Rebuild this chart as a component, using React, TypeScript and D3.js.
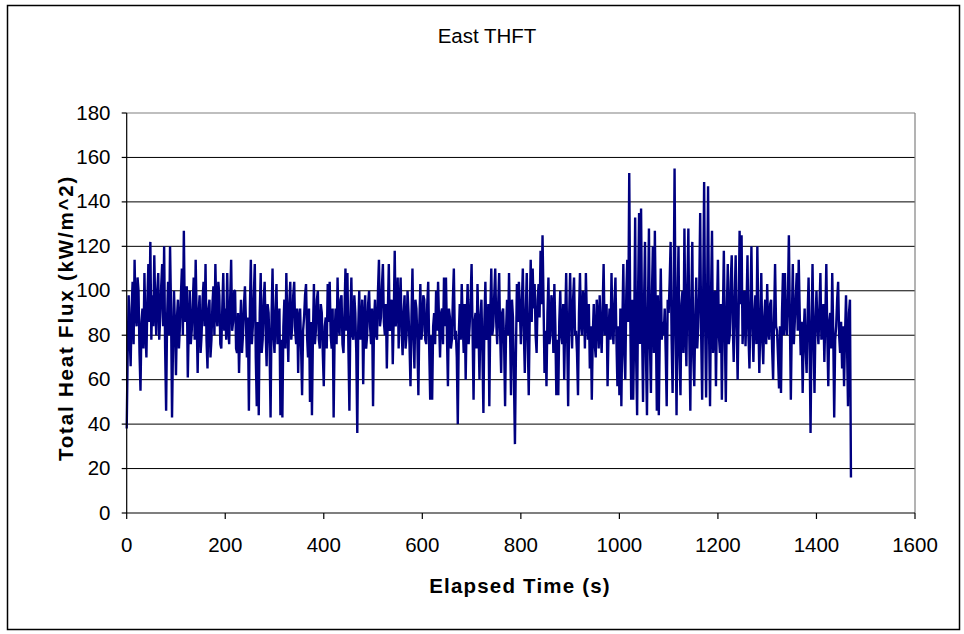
import React from "react";
import * as d3 from "d3";

const TITLE = "East THFT";
const X_TITLE = "Elapsed Time (s)";
const Y_TITLE = "Total Heat Flux (kW/m^2)";
const X_TICKS = [0, 200, 400, 600, 800, 1000, 1200, 1400, 1600];
const Y_TICKS = [0, 20, 40, 60, 80, 100, 120, 140, 160, 180];

// sampling of the series: one reading every 2 s from t = 0
const T_START = 0;
const T_STEP = 2;

// Total heat flux (kW/m^2), 50 readings per row (100 s)
const FLUX = [
  38, 72, 98, 80, 66, 92, 104, 76, 114, 90, 84, 106, 100, 72, 55, 86, 92, 74, 108, 82, 70, 96, 112, 86, 122, 78, 98, 84, 116, 92, 80, 100, 108, 78, 88, 102, 112, 84, 120, 74, 46, 88, 104, 80, 120, 92, 43, 76, 100, 84,
  62, 88, 96, 74, 84, 98, 110, 80, 127, 86, 90, 102, 61, 84, 100, 76, 82, 94, 106, 78, 114, 88, 63, 90, 98, 72, 80, 96, 104, 84, 112, 78, 65, 92, 96, 70, 78, 94, 102, 80, 112, 90, 84, 104, 98, 76, 74, 92, 108, 82,
  92, 78, 108, 84, 76, 96, 114, 82, 86, 100, 100, 74, 72, 90, 63, 82, 96, 72, 80, 94, 102, 86, 70, 88, 46, 92, 114, 76, 84, 98, 112, 70, 48, 86, 44, 90, 108, 72, 78, 96, 104, 82, 66, 94, 90, 74, 43, 88, 110, 80,
  72, 90, 103, 76, 80, 92, 44, 78, 43, 84, 96, 74, 108, 86, 68, 94, 104, 78, 84, 98, 104, 82, 76, 92, 63, 88, 92, 74, 53, 82, 88, 98, 103, 80, 70, 92, 50, 86, 44, 80, 103, 76, 82, 96, 100, 78, 74, 94, 90, 72,
  57, 84, 88, 74, 103, 86, 104, 80, 74, 92, 43, 80, 92, 76, 106, 84, 80, 96, 98, 76, 72, 90, 110, 82, 108, 74, 46, 88, 106, 80, 78, 98, 90, 72, 36, 84, 100, 78, 84, 96, 58, 86, 98, 74, 80, 94, 100, 84, 76, 92,
  48, 86, 96, 80, 78, 100, 114, 84, 88, 102, 112, 86, 80, 94, 65, 90, 112, 82, 84, 96, 67, 88, 118, 84, 92, 106, 74, 94, 106, 82, 71, 90, 98, 74, 80, 100, 90, 76, 57, 88, 110, 80, 65, 96, 92, 78, 53, 86, 103, 78,
  82, 98, 96, 78, 76, 94, 104, 74, 51, 80, 51, 84, 90, 76, 100, 82, 104, 86, 70, 90, 92, 76, 106, 84, 106, 80, 57, 92, 88, 74, 78, 96, 110, 78, 82, 70, 40, 80, 94, 78, 103, 86, 72, 94, 60, 88, 103, 76, 84, 96,
  112, 82, 51, 86, 90, 74, 103, 84, 60, 88, 96, 72, 45, 86, 104, 78, 80, 94, 48, 90, 110, 80, 84, 98, 110, 86, 76, 94, 108, 80, 63, 90, 92, 76, 48, 82, 96, 80, 108, 84, 53, 96, 88, 60, 31, 72, 103, 86, 104, 92,
  76, 94, 110, 82, 63, 90, 108, 78, 53, 88, 114, 86, 110, 92, 103, 80, 72, 96, 103, 88, 118, 94, 125, 96, 63, 82, 57, 90, 106, 76, 80, 98, 94, 72, 103, 84, 53, 78, 53, 86, 100, 80, 76, 94, 60, 86, 108, 80, 48, 88,
  108, 86, 74, 96, 106, 80, 82, 72, 53, 90, 108, 84, 80, 100, 96, 74, 108, 88, 78, 94, 65, 84, 51, 80, 94, 76, 70, 96, 88, 74, 98, 82, 72, 92, 112, 80, 84, 94, 57, 82, 92, 78, 108, 84, 76, 94, 106, 78, 57, 84,
  53, 92, 48, 84, 112, 72, 60, 98, 114, 86, 153, 90, 51, 96, 51, 80, 133, 70, 44, 100, 135, 76, 137, 84, 50, 94, 122, 70, 44, 92, 128, 76, 54, 98, 120, 72, 127, 86, 46, 98, 44, 80, 110, 78, 86, 80, 92, 72, 48, 96,
  90, 104, 122, 78, 54, 92, 155, 86, 44, 96, 120, 70, 53, 94, 100, 72, 128, 84, 66, 102, 128, 78, 46, 94, 122, 70, 57, 88, 106, 74, 84, 100, 135, 80, 51, 96, 149, 86, 52, 94, 147, 82, 48, 98, 127, 72, 80, 100, 57, 90,
  114, 80, 72, 94, 51, 88, 118, 82, 50, 90, 112, 76, 80, 104, 116, 86, 68, 96, 116, 84, 60, 90, 127, 94, 125, 76, 88, 100, 75, 92, 116, 80, 65, 94, 120, 84, 68, 90, 98, 76, 120, 88, 63, 84, 108, 78, 67, 88, 96, 76,
  103, 82, 78, 94, 96, 74, 60, 88, 112, 84, 82, 70, 56, 84, 54, 90, 108, 80, 108, 86, 80, 96, 125, 88, 51, 86, 112, 76, 86, 98, 108, 82, 114, 90, 71, 86, 54, 80, 92, 74, 63, 88, 106, 78, 36, 82, 112, 80, 54, 86,
  100, 84, 76, 92, 108, 78, 82, 94, 68, 88, 112, 80, 57, 86, 90, 74, 108, 82, 43, 78, 84, 96, 104, 80, 72, 86, 65, 84, 57, 80, 98, 76, 48, 90, 96, 16,
];

const W = 964;
const H = 634;
const FONT = "'Liberation Sans', Arial, sans-serif";

export default function App() {
  const x = d3.scaleLinear().domain([0, 1600]).range([126.7, 915]);
  const y = d3.scaleLinear().domain([0, 180]).range([513, 113]);
  const data = FLUX.map((v, i) => ({ t: T_START + i * T_STEP, v }));
  const line = d3
    .line<{ t: number; v: number }>()
    .x((d) => x(d.t))
    .y((d) => y(d.v));

  const x0 = x(0);
  const x1 = x(1600);
  const y0 = y(0);
  const y1 = y(180);

  return (
    <svg
      width={W}
      height={H}
      style={{ position: "absolute", left: 0, top: 0, background: "#fff" }}
      fontFamily={FONT}
    >
      <rect x={7.5} y={5.5} width={952} height={624} fill="#fff" stroke="#000" strokeWidth={1.5} />
      <text x={487} y={42.7} textAnchor="middle" fontSize={20.5} fill="#000">
        {TITLE}
      </text>

      {/* gridlines */}
      {Y_TICKS.filter((t) => t > 0 && t < 180).map((t) => (
        <line key={t} x1={x0} x2={x1} y1={y(t)} y2={y(t)} stroke="#000" strokeWidth={1} />
      ))}
      {/* plot area border (top / right) */}
      <line x1={x0} x2={x1} y1={y1} y2={y1} stroke="#808080" strokeWidth={1.2} />
      <line x1={x1} x2={x1} y1={y1} y2={y0} stroke="#808080" strokeWidth={1.2} />

      {/* data */}
      <path d={line(data) || ""} fill="none" stroke="#000080" strokeWidth={2.4} strokeLinejoin="bevel" />

      {/* axes */}
      <line x1={x0} x2={x0} y1={y1} y2={y0} stroke="#000" strokeWidth={1.2} />
      <line x1={x0} x2={x1} y1={y0} y2={y0} stroke="#000" strokeWidth={1.2} />
      {Y_TICKS.map((t) => (
        <g key={t}>
          <line x1={x0 - 5} x2={x0} y1={y(t)} y2={y(t)} stroke="#000" strokeWidth={1.2} />
          <text x={110.5} y={y(t) + 6.5} textAnchor="end" fontSize={20.5} fill="#000">
            {t}
          </text>
        </g>
      ))}
      {X_TICKS.map((t) => (
        <g key={t}>
          <line x1={x(t)} x2={x(t)} y1={y0} y2={y0 + 6} stroke="#000" strokeWidth={1.2} />
          <text x={x(t)} y={551.7} textAnchor="middle" fontSize={20.5} fill="#000">
            {t}
          </text>
        </g>
      ))}

      <text
        x={520}
        y={592.7}
        textAnchor="middle"
        fontSize={20.5}
        fontWeight="bold"
        letterSpacing={1.2}
        fill="#000"
      >
        {X_TITLE}
      </text>
      <text
        transform={`translate(73, 318) rotate(-90)`}
        textAnchor="middle"
        fontSize={20.5}
        fontWeight="bold"
        letterSpacing={1.8}
        fill="#000"
      >
        {Y_TITLE}
      </text>
    </svg>
  );
}
